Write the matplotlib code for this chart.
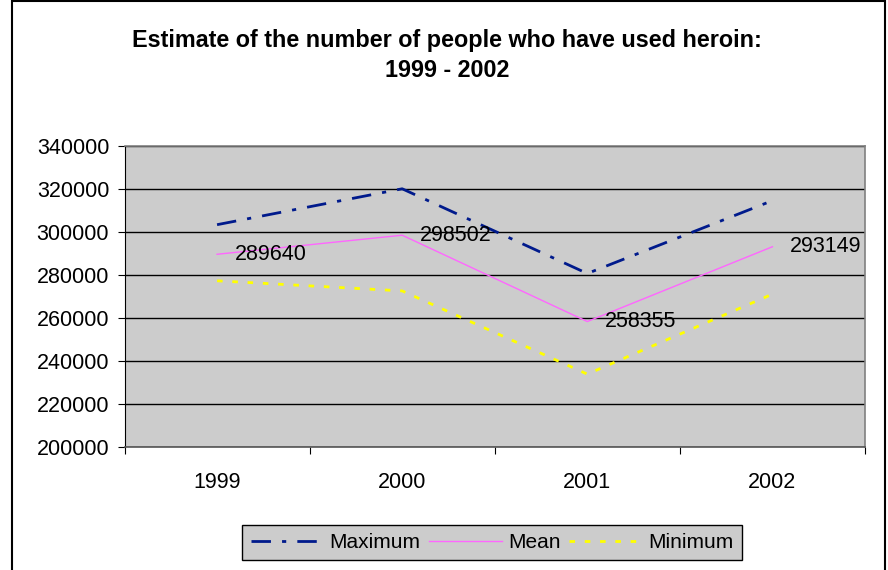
import matplotlib
matplotlib.use('Agg')
import matplotlib.pyplot as plt
from matplotlib.patches import Rectangle

years = ['1999', '2000', '2001', '2002']
maximum = [303400, 320100, 280700, 314600]
mean = [289640, 298502, 258355, 293149]
minimum = [277300, 272600, 233900, 271100]

plt.rcParams['font.family'] = ['Liberation Sans', 'DejaVu Sans']

fig = plt.figure(figsize=(8.88, 5.70), dpi=100)
ax = fig.add_axes([124.5 / 888, 1 - 447 / 570, 740.5 / 888, 301 / 570])
ax.set_facecolor('#cccccc')

x = range(len(years))
ax.plot(x, maximum, color='#001a8c', lw=2, linestyle=(0, (7, 4, 1.5, 4)), label='Maximum')
ax.plot(x, mean, color='#ff66ff', lw=1, label='Mean')
ax.plot(x, minimum, color='#ffff00', lw=2, linestyle=(0, (2, 3.5)), label='Minimum')

for i, v in enumerate(mean):
    ax.annotate(str(v), (i, v), xytext=(12.5, 0), textcoords='offset points',
                ha='left', va='center', fontsize=15.5)

ax.set_xlim(-0.5, 3.5)
ax.set_ylim(200000, 340000)
ax.set_yticks(range(200000, 340001, 20000))
ax.set_yticklabels([str(v) for v in range(200000, 340001, 20000)], fontsize=15.5)
ax.yaxis.grid(True, color='black', lw=1)
ax.set_axisbelow(True)

ax.set_xticks([-0.5, 0.5, 1.5, 2.5, 3.5])
ax.set_xticklabels([])
ax.set_xticks(list(x), minor=True)
ax.set_xticklabels(years, minor=True, fontsize=15.5)
ax.tick_params(axis='x', which='minor', length=0, pad=18)
ax.tick_params(axis='x', which='major', length=5, direction='out', color='black')
ax.tick_params(axis='y', length=5, direction='out', pad=6)

for side in ['top', 'right']:
    ax.spines[side].set_color('#808080')
    ax.spines[side].set_linewidth(1.2)
ax.spines['left'].set_color('black')
ax.spines['bottom'].set_color('#555555')
ax.spines['bottom'].set_linewidth(1.2)

fig.text(447 / 888, 1 - 40 / 570, 'Estimate of the number of people who have used heroin:',
         ha='center', va='center', fontsize=16.8, fontweight='bold')
fig.text(447 / 888, 1 - 71 / 570, '1999 - 2002',
         ha='center', va='center', fontsize=16.8, fontweight='bold')

leg = fig.legend(loc='center', bbox_to_anchor=(492 / 888, 1 - 542.5 / 570), ncol=3,
                 fontsize=15, frameon=True, fancybox=False, handlelength=3.5,
                 columnspacing=0.4, handletextpad=0.3, borderpad=0.4)
leg.get_frame().set_facecolor('#cccccc')
leg.get_frame().set_edgecolor('black')
leg.get_frame().set_alpha(1)

fig.patches.append(Rectangle((12 / 888, -0.05), 873 / 888, 1.05 - 1.5 / 570,
                             transform=fig.transFigure, fill=False, edgecolor='black', lw=1.5))

fig.savefig('out.png', dpi=100)
